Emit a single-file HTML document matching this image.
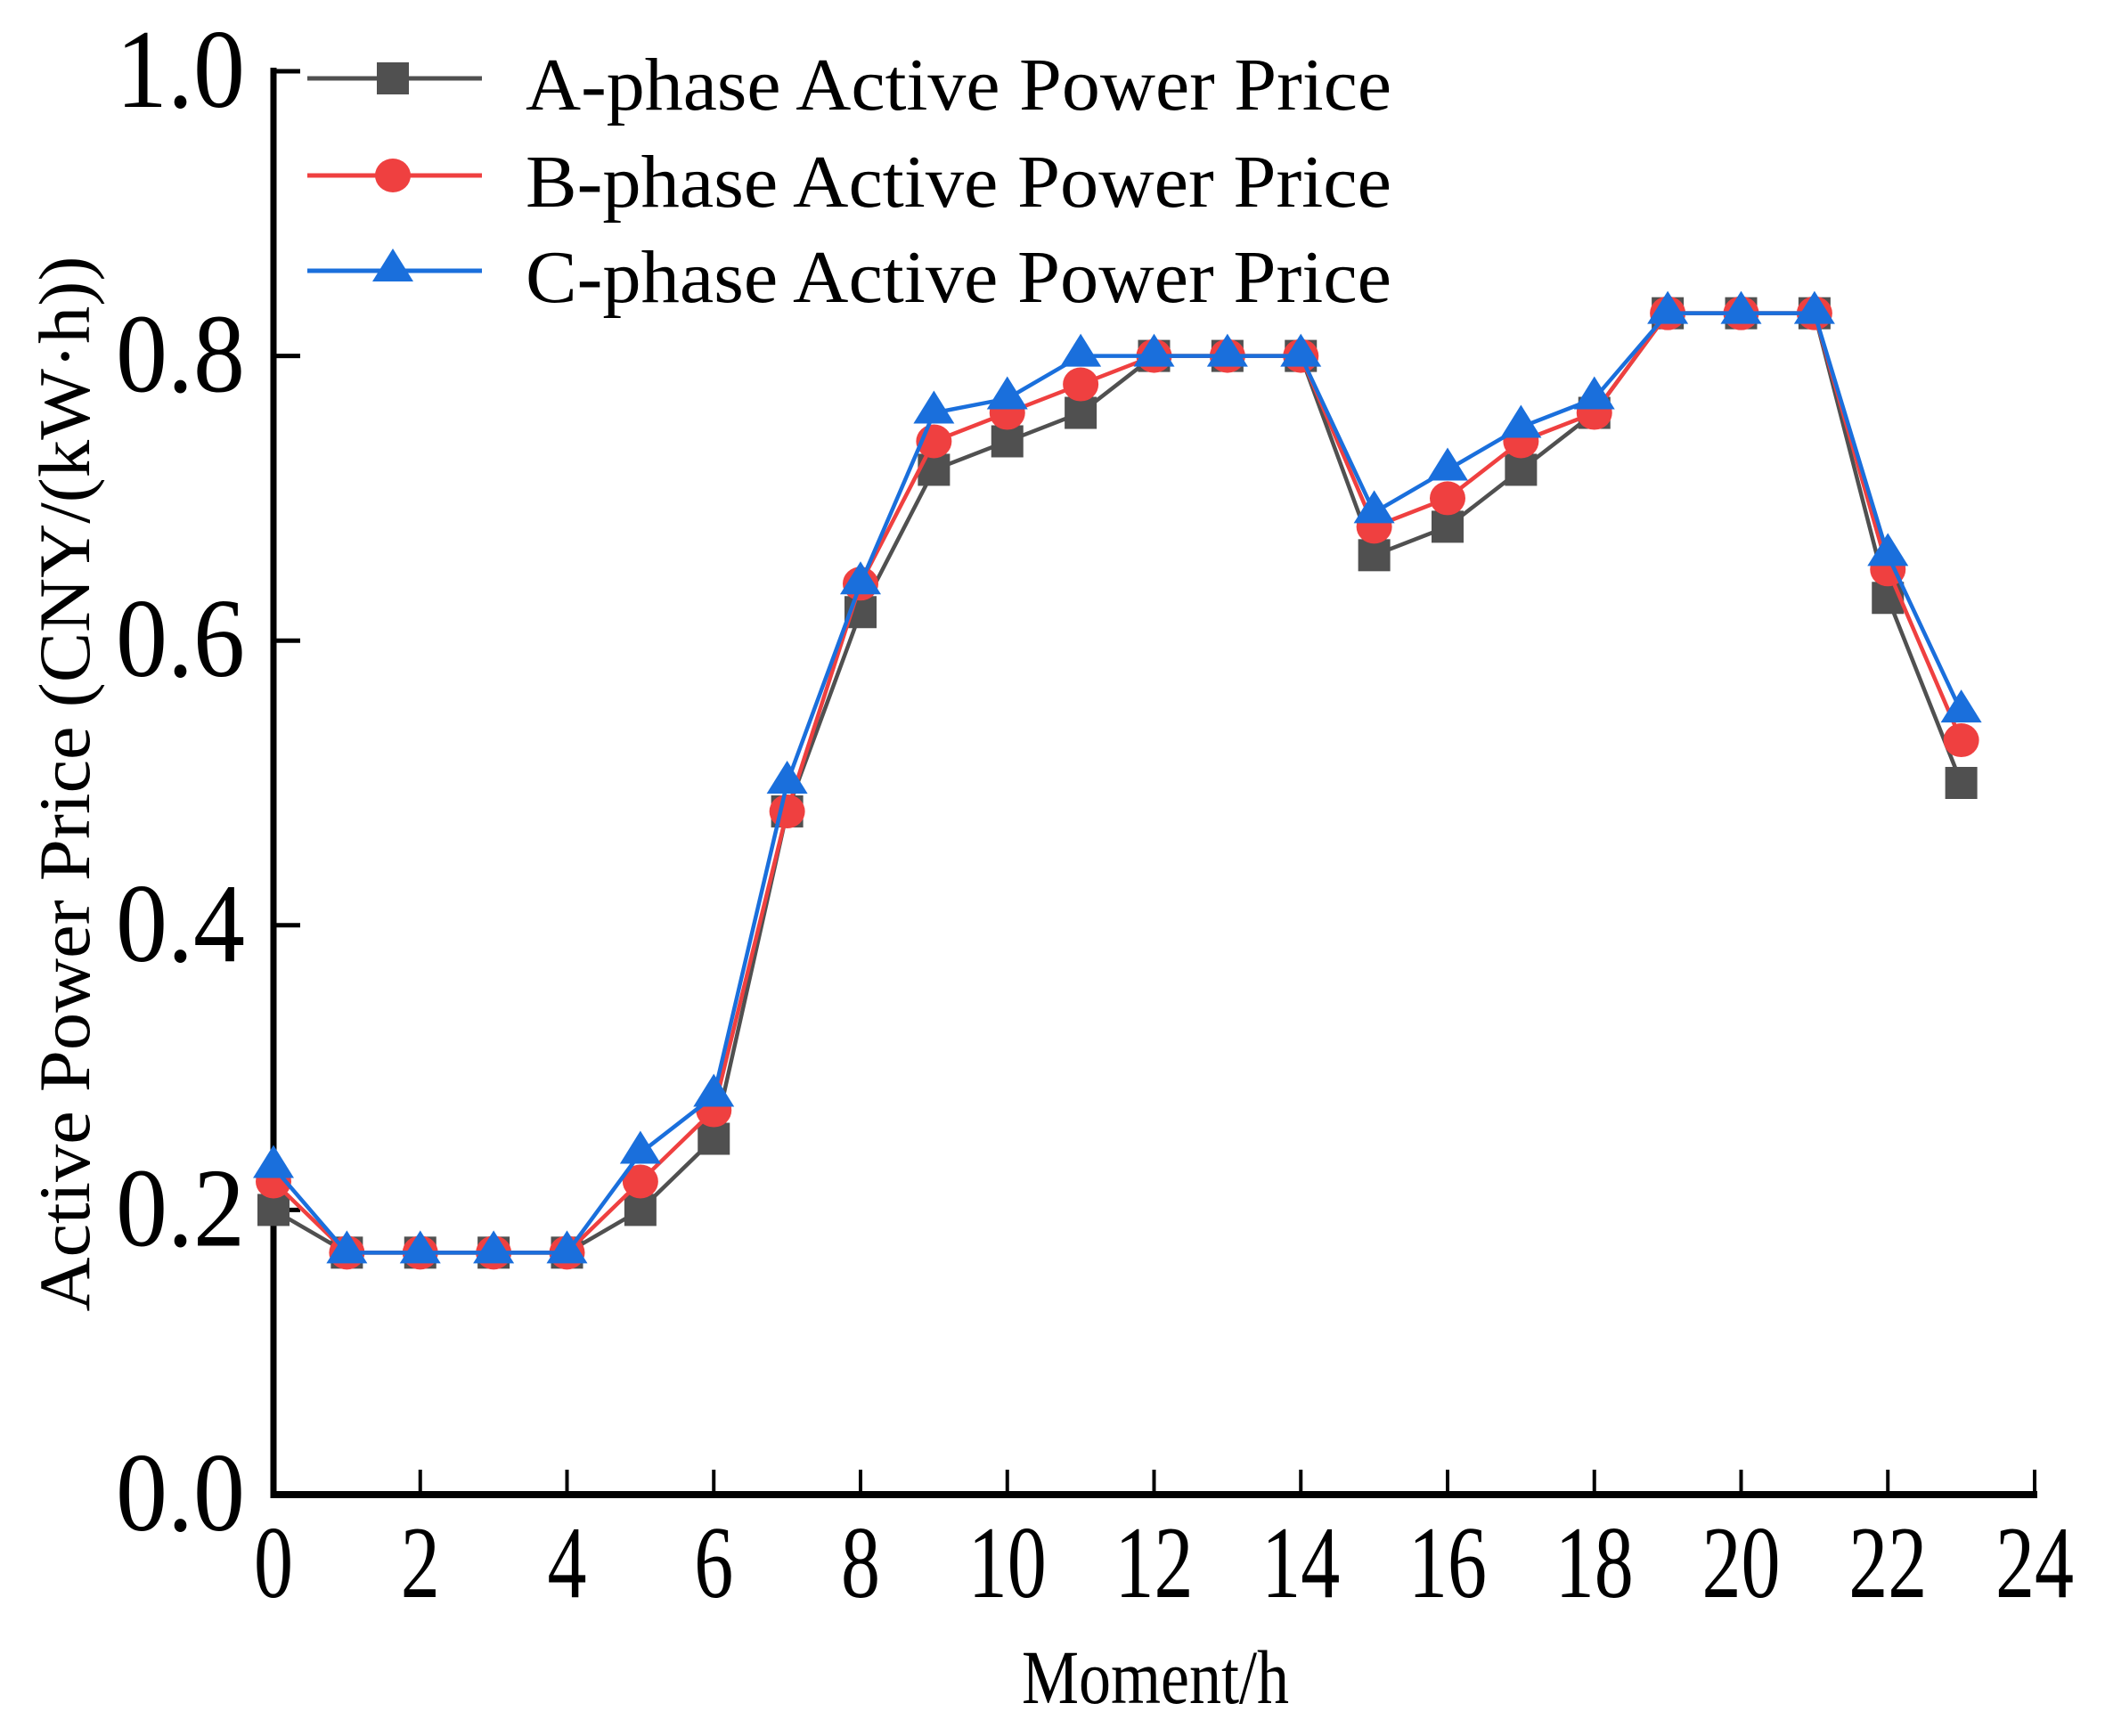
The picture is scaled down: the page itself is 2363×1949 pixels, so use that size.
<!DOCTYPE html>
<html><head><meta charset="utf-8"><style>
html,body{margin:0;padding:0;background:#fff;}
svg{display:block;font-family:"Liberation Serif","Noto Serif CJK SC",serif;}
</style></head><body>
<svg id="chart" width="2363" height="1949" viewBox="0 0 2363 1949" xmlns="http://www.w3.org/2000/svg">
<g id="grid"></g>
<g id="series"></g>
<g id="legend"></g>
<text x="1297" y="1912" font-size="86" text-anchor="middle" textLength="300" lengthAdjust="spacingAndGlyphs">Moment/h</text>
<text transform="translate(100,880) rotate(-90)" font-size="82" text-anchor="middle" textLength="1185" lengthAdjust="spacingAndGlyphs">Active Power Price (CNY/(kW·h))</text>
</svg>
<script>
const hours = [0,1,2,3,4,5,6,7,8,9,10,11,12,13,14,15,16,17,18,19,20,21,22,23];
const seriesA = [0.20,0.17,0.17,0.17,0.17,0.20,0.25,0.48,0.62,0.72,0.74,0.76,0.80,0.80,0.80,0.66,0.68,0.72,0.76,0.83,0.83,0.83,0.63,0.50];
const seriesB = [0.22,0.17,0.17,0.17,0.17,0.22,0.27,0.48,0.64,0.74,0.76,0.78,0.80,0.80,0.80,0.68,0.70,0.74,0.76,0.83,0.83,0.83,0.65,0.53];
const seriesC = [0.23,0.17,0.17,0.17,0.17,0.24,0.28,0.50,0.64,0.76,0.77,0.80,0.80,0.80,0.80,0.69,0.72,0.75,0.77,0.83,0.83,0.83,0.66,0.55];
const xTicks = [0,2,4,6,8,10,12,14,16,18,20,22,24];
const yTicks = [0.0,0.2,0.4,0.6,0.8,1.0];
const yTickLabels = ["0.0","0.2","0.4","0.6","0.8","1.0"];
const seriesNames = ["A-phase Active Power Price","B-phase Active Power Price","C-phase Active Power Price"];

const NS="http://www.w3.org/2000/svg";
const X0=307,X1=2284,Y0=1678,Y1=80;
const xs=v=>X0+(v-0)/(24-0)*(X1-X0);
const ys=v=>Y0-(v-0)/(1-0)*(Y0-Y1);
function mk(tag,attrs,parent){const e=document.createElementNS(NS,tag);for(const k in attrs)e.setAttribute(k,attrs[k]);parent.appendChild(e);return e;}
const grid=document.getElementById('grid');
let e;
e=mk('line',{x1:X0,y1:Y1-4,x2:X0,y2:Y0+4,stroke:'#000','stroke-width':7},grid);


e=mk('line',{x1:X0-3,y1:Y0,x2:X1+3,y2:Y0,stroke:'#000','stroke-width':8},grid);


xTicks.forEach(t=>{
  const x=xs(t);
  e=mk('line',{x1:x,y1:Y0,x2:x,y2:Y0-28,stroke:'#000','stroke-width':4},grid);
  
  
  const lbl=String(t);
  e=mk('text',{x:x,y:1793,'font-size':116,'text-anchor':'middle',textLength:lbl.length*44,lengthAdjust:'spacingAndGlyphs'},grid);
  e.textContent=lbl;
  
  
});
yTicks.forEach((t,i)=>{
  const y=ys(t);
  e=mk('line',{x1:X0,y1:y,x2:X0+30,y2:y,stroke:'#000','stroke-width':5},grid);
  
  
  e=mk('text',{x:275,y:y+40,'font-size':126,'text-anchor':'end',textLength:145,lengthAdjust:'spacingAndGlyphs'},grid);
  e.textContent=yTickLabels[i];
  
  
});
const colors=['#505050','#ef4040','#1a6fdc'];
const sg=document.getElementById('series');
function marker(kind,x,y,c,p){
  if(kind===0) return mk('rect',{x:x-18,y:y-18,width:36,height:36,fill:c},p);
  if(kind===1) return mk('ellipse',{cx:x,cy:y,rx:20,ry:19,fill:c},p);
  return mk('polygon',{points:`${x},${y-25} ${x-23},${y+12} ${x+23},${y+12}`,fill:c},p);
}
[seriesA,seriesB,seriesC].forEach((vals,si)=>{
  const g=mk('g',{},sg);
  
  
  const pts=hours.map((h,i)=>xs(h)+','+ys(vals[i])).join(' ');
  e=mk('polyline',{points:pts,fill:'none',stroke:colors[si],'stroke-width':4.5},g);
  
  
  hours.forEach((h,i)=>{
    e=marker(si,xs(h),ys(vals[i]),colors[si],g);
    
    
  });
});
const lg=document.getElementById('legend');
const rowY=[88,197,304];
seriesNames.forEach((n,si)=>{
  const g=mk('g',{},lg);
  
  
  mk('line',{x1:345,y1:rowY[si],x2:541,y2:rowY[si],stroke:colors[si],'stroke-width':5},g);
  marker(si,441,rowY[si],colors[si],g);
  e=mk('text',{x:590,y:rowY[si]+35,'font-size':84,textLength:972,lengthAdjust:'spacingAndGlyphs'},g);
  e.textContent=n;
  
  
});
</script>
</body></html>
